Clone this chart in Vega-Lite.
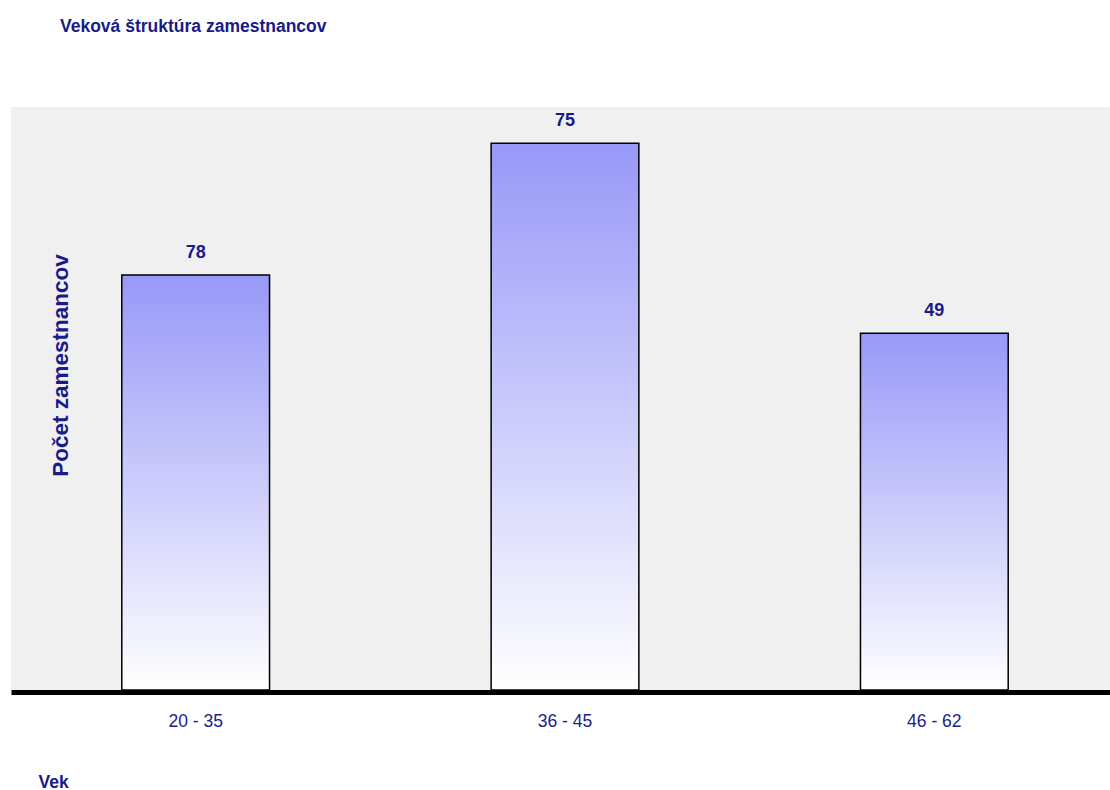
{
  "$schema": "https://vega.github.io/schema/vega-lite/v6.json",
  "width": 1108,
  "height": 583,
  "autosize": {"type": "none"},
  "padding": {"left": 11, "top": 107, "right": 0, "bottom": 100},
  "background": "white",
  "title": {
    "text": "Veková štruktúra zamestnancov",
    "anchor": "start",
    "frame": "group",
    "dx": 49,
    "offset": 58,
    "baseline": "alphabetic",
    "font": "Liberation Sans",
    "fontSize": 17.5,
    "fontWeight": "bold",
    "color": "#1a1a8a"
  },
  "data": {
    "values": [
      {"vek": "20 - 35", "pocet": 78, "vyska": 71.2},
      {"vek": "36 - 45", "pocet": 75, "vyska": 93.8},
      {"vek": "46 - 62", "pocet": 49, "vyska": 61.2}
    ]
  },
  "encoding": {
    "x": {
      "field": "vek",
      "type": "ordinal",
      "sort": null,
      "scale": {"paddingInner": 0.6, "paddingOuter": 0.3},
      "axis": {
        "title": "Vek",
        "labelAngle": 0,
        "ticks": false,
        "offset": 2,
        "domainColor": "black",
        "domainWidth": 5,
        "labelPadding": 20,
        "labelFont": "Liberation Sans",
        "labelFontSize": 17.5,
        "labelColor": "#1c1c8c",
        "titleX": 27,
        "titleY": 95,
        "titleAlign": "left",
        "titleAnchor": null,
        "titleBaseline": "alphabetic",
        "titleFont": "Liberation Sans",
        "titleFontSize": 17.5,
        "titleFontWeight": "bold",
        "titleColor": "#1a1a8a"
      }
    },
    "y": {
      "field": "vyska",
      "type": "quantitative",
      "scale": {"domain": [0, 100]},
      "axis": {
        "title": "Počet zamestnancov",
        "labels": false,
        "ticks": false,
        "domain": false,
        "grid": false,
        "titleX": 56,
        "titleY": 258,
        "titleAngle": -90,
        "titleAlign": "center",
        "titleBaseline": "alphabetic",
        "titleFont": "Liberation Sans",
        "titleFontSize": 22.5,
        "titleFontWeight": "bold",
        "titleColor": "#1a1a8a"
      }
    }
  },
  "layer": [
    {
      "mark": {
        "type": "bar",
        "color": {
          "gradient": "linear",
          "x1": 0, "y1": 0, "x2": 0, "y2": 1,
          "stops": [
            {"offset": 0, "color": "#9898f8"},
            {"offset": 1, "color": "#ffffff"}
          ]
        },
        "stroke": "black",
        "strokeWidth": 1.5
      }
    },
    {
      "mark": {
        "type": "text",
        "dy": -17,
        "baseline": "alphabetic",
        "font": "Liberation Sans",
        "fontSize": 18,
        "fontWeight": "bold",
        "color": "#1a1a8a"
      },
      "encoding": {"text": {"field": "pocet", "type": "quantitative"}}
    }
  ],
  "config": {"view": {"fill": "#f0f0f0", "stroke": null}}
}
